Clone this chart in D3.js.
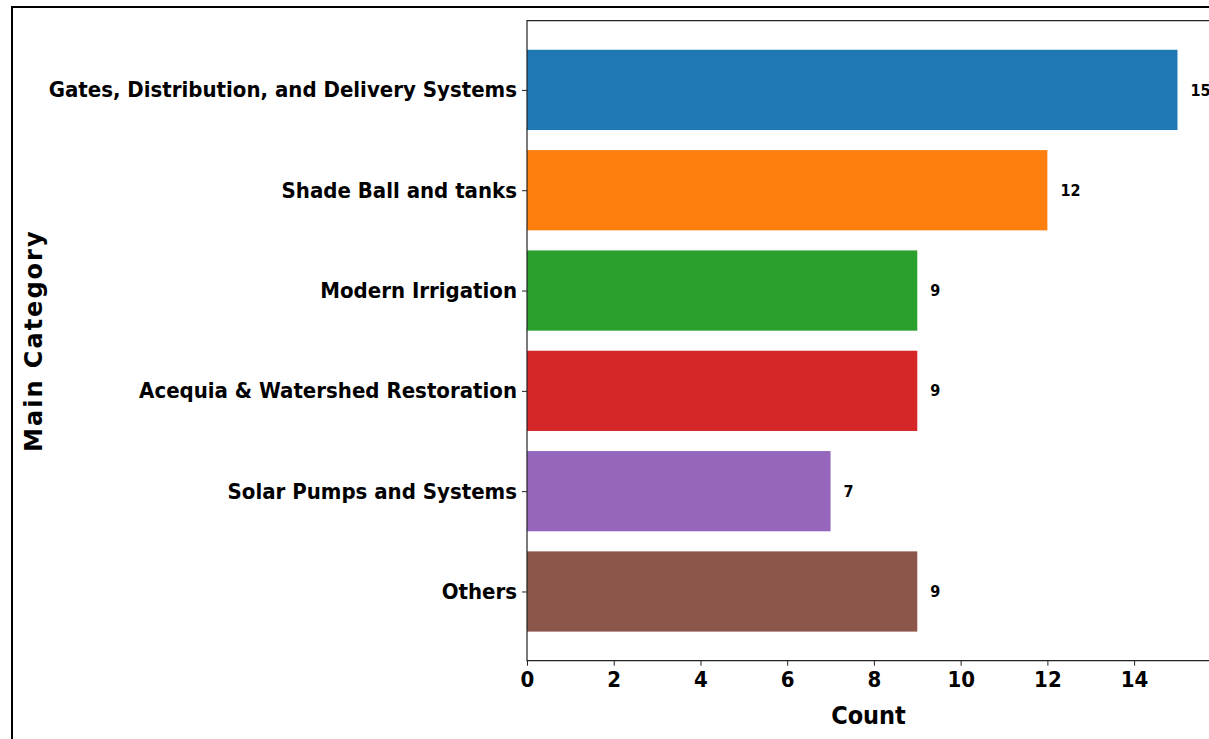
<!DOCTYPE html>
<html>
<head>
<meta charset="utf-8">
<script src="https://cdn.jsdelivr.net/npm/d3@7"></script>
<style>
  body { margin: 0; background: #fff; }
  svg { display: block; }
  .lbl { font-family: "DejaVu Sans"; font-stretch: condensed; font-weight: bold; fill: #000; }
</style>
</head>
<body>
<div id="graf"></div>
<script>
// data
const categories = ["Gates, Distribution, and Delivery Systems", "Shade Ball and tanks", "Modern Irrigation",
                    "Acequia & Watershed Restoration", "Solar Pumps and Systems", "Others"];
const counts = [15, 12, 9, 9, 7, 9];
const colors = ["#1f77b4", "#ff7f0e", "#2ca02c", "#d62728", "#9467bd", "#8c564b"];
const xTicks = [0, 2, 4, 6, 8, 10, 12, 14];

let width = 1209, height = 739;
let margin = {left: 527, top: 20.7, right: -1, bottom: 78.3};

let svg = d3.select("#graf").append("svg")
            .attr("width", width)
            .attr("height", height);

// figure frame (runs off the right and bottom edge)
svg.append("rect")
    .attr("x", 12).attr("y", 7)
    .attr("width", width + 20).attr("height", height + 20)
    .attr("fill", "none").attr("stroke", "#000").attr("stroke-width", 2);

let x = d3.scaleLinear()
          .domain([0, 15.75])
          .range([margin.left, width - margin.right]);

// bars are 0.8 tall, like matplotlib barh, with 5% margins
let y = d3.scaleLinear()
          .domain([-0.69, categories.length - 1 + 0.69])
          .range([margin.top, height - margin.bottom]);

const g = svg.append("g");

g.selectAll("rect.bar")
    .data(counts)
    .join("rect")
    .attr("class", "bar")
    .attr("x", x(0))
    .attr("y", (d, i) => y(i - 0.4))
    .attr("width", d => x(d) - x(0))
    .attr("height", y(0.8) - y(0))
    .attr("fill", (d, i) => colors[i]);

g.selectAll("text.val")
    .data(counts)
    .join("text")
    .attr("class", "lbl val")
    .attr("x", d => x(d) + 13)
    .attr("y", (d, i) => y(i))
    .attr("dy", "0.35em")
    .style("font-size", "16px")
    .text(d => d);

// spines
svg.append("path")
    .attr("d", `M${x.range()[1]},${y.range()[0]}H${x(0)}V${y.range()[1]}H${x.range()[1]}`)
    .attr("fill", "none").attr("stroke", "#222").attr("stroke-width", 1.2);

// x axis
const xAxis = svg.append("g")
    .attr("transform", `translate(0,${y.range()[1]})`)
    .call(d3.axisBottom(x).tickValues(xTicks).tickSize(5).tickPadding(6).tickFormat(d3.format("d")));
xAxis.select(".domain").remove();
xAxis.selectAll("line").attr("stroke", "#222");
xAxis.selectAll("text").attr("class", "lbl").style("font-size", "22px");

// y axis
const yAxis = svg.append("g")
    .attr("transform", `translate(${x(0)},0)`)
    .call(d3.axisLeft(d3.scalePoint().domain(categories).range([y(0), y(categories.length - 1)]))
            .tickSize(5).tickPadding(5));
yAxis.select(".domain").remove();
yAxis.selectAll("line").attr("stroke", "#222");
yAxis.selectAll("text").attr("class", "lbl").style("font-size", "22px");

svg.append("text")
    .attr("class", "lbl")
    .attr("x", (x.range()[0] + x.range()[1]) / 2)
    .attr("y", 724)
    .attr("text-anchor", "middle")
    .style("font-size", "25px")
    .text("Count");

svg.append("text")
    .attr("transform", `translate(42,${(y.range()[0] + y.range()[1]) / 2}) rotate(-90)`)
    .attr("text-anchor", "middle")
    .style("font-family", "DejaVu Sans")
    .style("font-weight", "bold")
    .style("font-size", "24px")
    .style("letter-spacing", "2px")
    .text("Main Category");
</script>
</body>
</html>
